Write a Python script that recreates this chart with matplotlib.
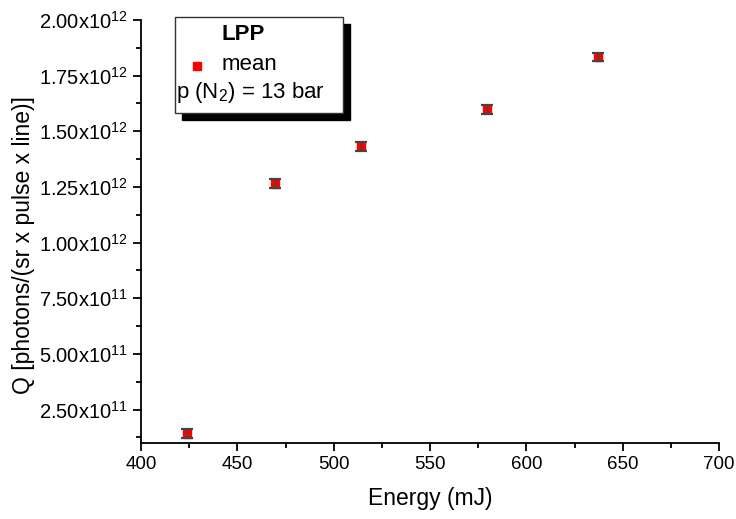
#!/usr/bin/env python3

import matplotlib
matplotlib.use("Agg")
import matplotlib.pyplot as plt
from matplotlib.lines import Line2D
from matplotlib.patches import Rectangle
from matplotlib.ticker import FuncFormatter, MultipleLocator

# values
energy = [424.0, 469.5, 514.2, 579.4, 637.0]
q_mean = [1.41e11, 1.264e12, 1.433e12, 1.599e12, 1.834e12]
q_err = [2.0e10, 2.0e10, 2.0e10, 2.0e10, 2.0e10]

X_TICKS = [400, 450, 500, 550, 600, 650, 700]

plt.rcParams["font.family"] = ["Liberation Sans", "DejaVu Sans"]
plt.rcParams["mathtext.fontset"] = "custom"
plt.rcParams["mathtext.rm"] = "Liberation Sans"
plt.rcParams["mathtext.it"] = "Liberation Sans:italic"
plt.rcParams["mathtext.bf"] = "Liberation Sans:bold"


def _sci(v, pos):
	if v == 0:
		return "0"
	exp = 0
	m = abs(v)
	while m >= 10:
		m /= 10
		exp += 1
	while m < 1:
		m *= 10
		exp -= 1
	return f"{m:.2f}x10$^{{{exp}}}$"


fig = plt.figure(figsize=(7.36, 5.19), dpi=100)
ax = fig.add_axes([141 / 736, 76 / 519, 578 / 736, 423 / 519])

ax.errorbar(energy, q_mean, yerr=q_err, fmt="none", ecolor="#444444",
	elinewidth=1.0, capsize=4.2, capthick=1.6, zorder=4)
ax.plot(energy, q_mean, "s", color="red", markersize=6, zorder=3)

ax.set_xlim(400, 700)
ax.set_ylim(1.0e11, 2.0e12)
ax.set_xticks(X_TICKS)
ax.xaxis.set_minor_locator(MultipleLocator(25))
ax.yaxis.set_major_locator(MultipleLocator(2.5e11))
ax.yaxis.set_minor_locator(MultipleLocator(1.25e11))
ax.yaxis.set_major_formatter(FuncFormatter(_sci))
ax.yaxis.get_offset_text().set_visible(False)

for side in ["top", "right"]:
	ax.spines[side].set_visible(False)
for side in ["left", "bottom"]:
	ax.spines[side].set_linewidth(1.3)

ax.tick_params(which="major", direction="out", length=6, width=1.3)
ax.tick_params(which="minor", direction="out", length=3.5, width=1.3)
ax.tick_params(axis="x", labelsize=13.5)
ax.tick_params(axis="y", labelsize=14.5)

ax.set_xlabel("Energy (mJ)", fontsize=16.5, labelpad=10)
ax.set_ylabel("Q [photons/(sr x pulse x line)]", fontsize=16.5)
ax.yaxis.set_label_coords(-0.184, 0.468)

# legend box with a hard black shadow, placed in figure pixels
W, H = 736, 519
bx, by, bw, bh = 175, 17, 168, 96
shadow = Rectangle(((bx + 7) / W, (H - by - bh - 7) / H), bw / W, bh / H,
	transform=fig.transFigure, facecolor="black", edgecolor="black", zorder=5)
box = Rectangle((bx / W, (H - by - bh) / H), bw / W, bh / H,
	transform=fig.transFigure, facecolor="white", edgecolor="#333333",
	linewidth=1.0, zorder=6)
fig.add_artist(shadow)
fig.add_artist(box)

fig.text(243 / W, 1 - 35 / H, "LPP", fontsize=16, fontweight="bold",
	ha="center", va="center", zorder=7)
fig.add_artist(Line2D([197 / W], [1 - 66 / H], marker="s", color="red",
	markersize=5.5, linestyle="none", transform=fig.transFigure, zorder=7))
fig.text(222 / W, 1 - 64 / H, "mean", fontsize=16, ha="left", va="center", zorder=7)
fig.text(176 / W, 1 - 92 / H, "p (N$_2$) = 13 bar", fontsize=16, ha="left",
	va="center", zorder=7)

fig.savefig("out.png", dpi=100)
plt.close("all")
